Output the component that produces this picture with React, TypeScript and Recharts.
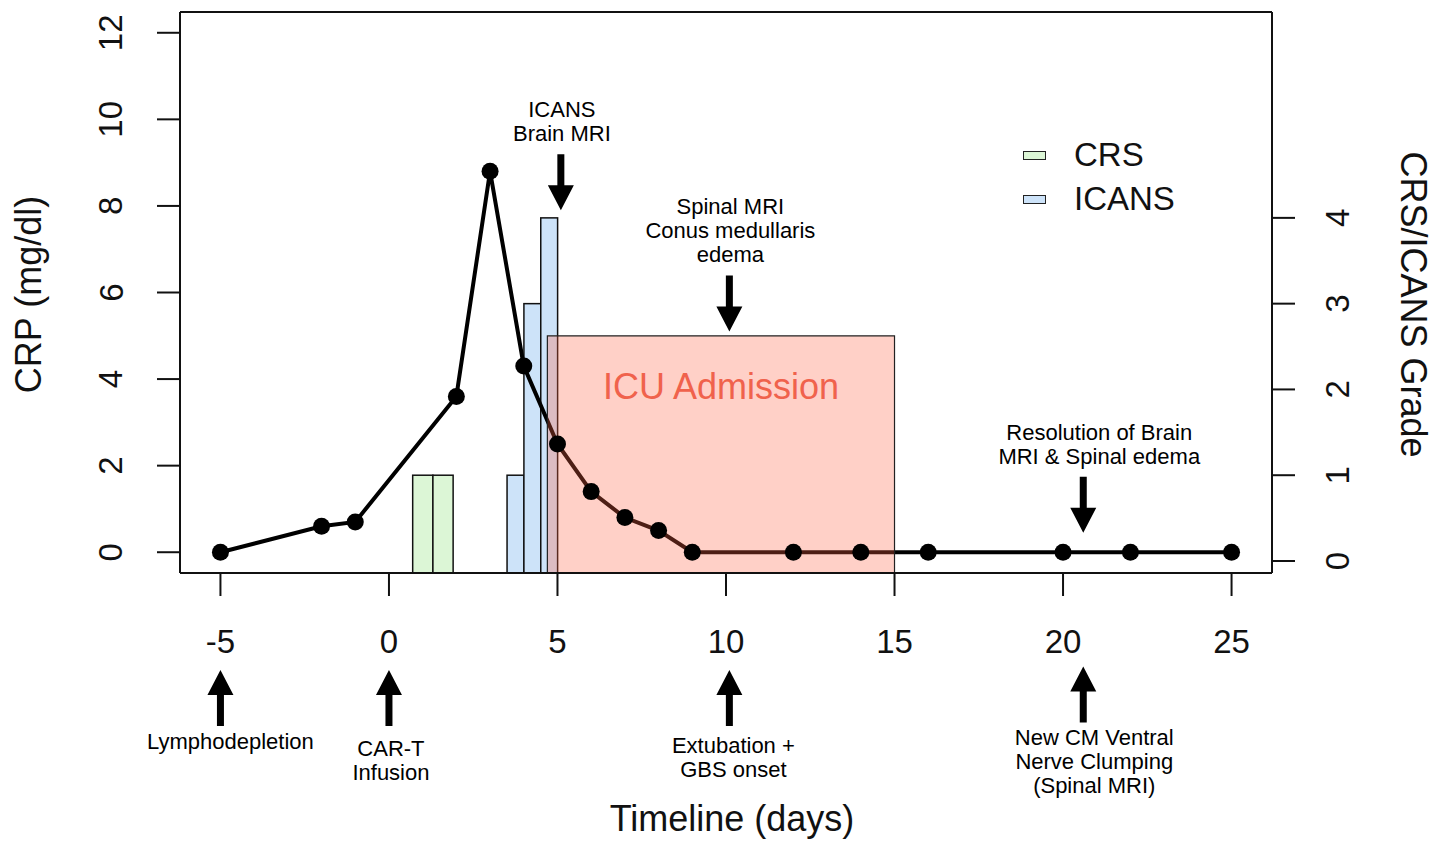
import React from "react";
import {
  Bar,
  ComposedChart,
  Legend,
  Line,
  ReferenceArea,
  ReferenceDot,
  XAxis,
  YAxis,
} from "recharts";

// CRP (mg/dl) by day relative to CAR-T infusion
const crpDays = [-5, -2, -1, 2, 3, 4, 5, 6, 7, 8, 9, 12, 14, 16, 20, 22, 25];
const crpValues = [0, 0.6, 0.7, 3.6, 8.8, 4.3, 2.5, 1.4, 0.8, 0.5, 0, 0, 0, 0, 0, 0, 0];

// toxicity grades
const crsDays = [1.0, 1.6];
const crsGrades = [1, 1];
const icansDays = [3.75, 4.25, 4.75];
const icansGrades = [1, 3, 4];

const dayTicks = [-5, 0, 5, 10, 15, 20, 25];
const crpTicks = [0, 2, 4, 6, 8, 10, 12];
const gradeTicks = [0, 1, 2, 3, 4];

const icuSpan = [4.7, 15];
const icuTop = 5;

// event markers: day, crp level of arrow tip, direction, text
const noteDays = [5.1, 10.1, 20.6, -5, 0, 10.1, 20.6];
const noteTips = [7.9, 5.1, 0.45, -2.72, -2.72, -2.72, -2.64];
const noteDirs = ["down", "down", "down", "up", "up", "up", "up"];
const noteTexts = [
  ["ICANS", "Brain MRI"],
  ["Spinal MRI", "Conus medullaris", "edema"],
  ["Resolution of Brain", "MRI & Spinal edema"],
  ["Lymphodepletion"],
  ["CAR-T", "Infusion"],
  ["Extubation +", "GBS onset"],
  ["New CM Ventral", "Nerve Clumping", "(Spinal MRI)"],
];
// small text nudges in px: [dx, gap from arrow tail]
const noteNudge = [
  [1, 21],
  [1, 21],
  [16, 20],
  [10, 16],
  [2, 23],
  [4, 20],
  [11, 15],
];

const DAY_DOMAIN: [number, number] = [-6.2, 26.2];
const CRP_DOMAIN: [number, number] = [-0.48, 12.48];
const GRADE_DOMAIN: [number, number] = [-0.14, 6.4];

const W = 1441;
const H = 852;
const LEFT_W = 180;
const RIGHT_W = 169;
const BOTTOM_H = 279;
const TOP = 12;
const pxPerDay = (W - LEFT_W - RIGHT_W) / (DAY_DOMAIN[1] - DAY_DOMAIN[0]);

const FONT = "'Liberation Sans', Arial, Helvetica, sans-serif";
const CRS_FILL = "#dcf6d6";
const ICANS_FILL = "#cde3f9";
const INK = "#111";

const rows: any[] = [
  ...crpDays.map((d, i) => ({ day: d, crp: crpValues[i] })),
  ...crsDays.map((d, i) => ({ day: d, crs: crsGrades[i] })),
  ...icansDays.map((d, i) => ({ day: d, icans: icansGrades[i] })),
].sort((a, b) => a.day - b.day);

const RotTick = ({ x, y, payload }: any) => (
  <text
    x={x}
    y={y}
    transform={`rotate(-90, ${x}, ${y})`}
    textAnchor="middle"
    dominantBaseline="central"
    fontSize={33}
    fill={INK}
    fontFamily={FONT}
  >
    {payload.value}
  </text>
);

const DayTick = ({ x, y, payload }: any) => (
  <text
    x={x}
    y={y}
    textAnchor="middle"
    dominantBaseline="central"
    fontSize={33}
    fill={INK}
    fontFamily={FONT}
  >
    {payload.value}
  </text>
);

// bars are as wide as the time they cover and stand on the plot floor (R style)
const barShape = (key: string, widthDays: number, fill: string) => (p: any) => {
  if (p.payload == null || p.payload[key] == null) return null;
  if (!isFinite(p.x) || !isFinite(p.y) || !isFinite(p.height)) return null;
  const w = widthDays * pxPerDay;
  const cx = p.x + p.width / 2;
  const top = Math.min(p.y, p.y + p.height);
  const floor = p.background ? p.background.y + p.background.height : Math.max(p.y, p.y + p.height);
  return (
    <rect
      x={cx - w / 2}
      y={top}
      width={w}
      height={floor - top}
      fill={fill}
      stroke={INK}
      strokeWidth={1.5}
    />
  );
};

const Note = ({ cx, cy, idx }: any) => {
  if (cx == null || cy == null) return null;
  const s = noteDirs[idx] === "down" ? -1 : 1;
  const tail = cy + s * 56;
  const neck = cy + s * 25;
  const pts = [
    [cx - 3.5, tail],
    [cx + 3.5, tail],
    [cx + 3.5, neck],
    [cx + 13, neck],
    [cx, cy],
    [cx - 13, neck],
    [cx - 3.5, neck],
  ]
    .map((p) => p.join(","))
    .join(" ");
  const lines = noteTexts[idx];
  const [dx, gap] = noteNudge[idx];
  return (
    <g>
      <polygon points={pts} fill="#000" />
      {lines.map((t, i) => {
        const ty =
          s < 0
            ? tail - gap - (lines.length - 1 - i) * 24
            : tail + gap + i * 24;
        return (
          <text
            key={t}
            x={cx + dx}
            y={ty}
            textAnchor="middle"
            dominantBaseline="central"
            fontSize={22}
            fill="#000"
            fontFamily={FONT}
          >
            {t}
          </text>
        );
      })}
    </g>
  );
};

const renderLegend = (props: any) => {
  const items = (props.payload || []).filter((p: any) => p.type !== "none");
  return (
    <div style={{ fontFamily: FONT }}>
      {items.map((it: any) => (
        <div
          key={it.value}
          style={{ display: "flex", alignItems: "center", height: 44 }}
        >
          <span
            style={{
              display: "inline-block",
              width: 21,
              height: 7,
              border: "1.5px solid #222",
              background: it.color,
              marginRight: 28,
            }}
          />
          <span style={{ fontSize: 33, color: INK }}>{it.value}</span>
        </div>
      ))}
    </div>
  );
};

const App = () => {
  return (
    <div style={{ position: "absolute", left: 0, top: 0, width: W, height: H, background: "#fff" }}>
      <ComposedChart
        width={W}
        height={H}
        data={rows}
        margin={{ top: TOP - 1, right: 0, bottom: 0, left: 0 }}
        style={{ fontFamily: FONT }}
      >
        <XAxis
          xAxisId="main"
          dataKey="day"
          type="number"
          domain={DAY_DOMAIN}
          allowDataOverflow
          ticks={dayTicks}
          interval={0}
          height={BOTTOM_H}
          tickSize={23}
          tickMargin={45}
          tick={<DayTick />}
          axisLine={{ stroke: INK, strokeWidth: 2 }}
          tickLine={{ stroke: INK, strokeWidth: 2 }}
          label={{
            content: (p: any) => {
              const vb = p.viewBox || { x: LEFT_W, width: W - LEFT_W - RIGHT_W, y: H - BOTTOM_H };
              return (
                <text
                  x={vb.x + vb.width / 2 + 6}
                  y={818}
                  textAnchor="middle"
                  dominantBaseline="central"
                  fontSize={36}
                  fill={INK}
                  fontFamily={FONT}
                >
                  Timeline (days)
                </text>
              );
            },
          }}
        />
        <XAxis
          xAxisId="top"
          orientation="top"
          dataKey="day"
          type="number"
          domain={DAY_DOMAIN}
          allowDataOverflow
          height={1}
          tick={false}
          tickLine={false}
          axisLine={{ stroke: INK, strokeWidth: 2 }}
        />
        <YAxis
          yAxisId="crp"
          orientation="left"
          type="number"
          domain={CRP_DOMAIN}
          allowDataOverflow
          ticks={crpTicks}
          interval={0}
          width={LEFT_W}
          tickSize={23}
          tickMargin={46}
          tick={<RotTick />}
          axisLine={{ stroke: INK, strokeWidth: 2 }}
          tickLine={{ stroke: INK, strokeWidth: 2 }}
          label={{
            content: (p: any) => {
              const vb = p.viewBox || { x: 0, y: TOP, height: H - TOP - BOTTOM_H };
              const cy = vb.y + vb.height / 2 + 2;
              return (
                <text
                  x={28}
                  y={cy}
                  transform={`rotate(-90, 28, ${cy})`}
                  textAnchor="middle"
                  dominantBaseline="central"
                  fontSize={36}
                  fill={INK}
                  fontFamily={FONT}
                >
                  CRP (mg/dl)
                </text>
              );
            },
          }}
        />
        <YAxis
          yAxisId="grade"
          orientation="right"
          type="number"
          domain={GRADE_DOMAIN}
          allowDataOverflow
          ticks={gradeTicks}
          interval={0}
          width={RIGHT_W}
          tickSize={23}
          tickMargin={43}
          tick={<RotTick />}
          axisLine={{ stroke: INK, strokeWidth: 2 }}
          tickLine={{ stroke: INK, strokeWidth: 2 }}
          label={{
            content: (p: any) => {
              const vb = p.viewBox || { y: TOP, height: H - TOP - BOTTOM_H };
              const cy = vb.y + vb.height / 2 + 12;
              return (
                <text
                  x={1413}
                  y={cy}
                  transform={`rotate(90, 1413, ${cy})`}
                  textAnchor="middle"
                  dominantBaseline="central"
                  fontSize={36}
                  fill={INK}
                  fontFamily={FONT}
                >
                  CRS/ICANS Grade
                </text>
              );
            },
          }}
        />

        <Bar
          xAxisId="main"
          yAxisId="grade"
          name="CRS"
          dataKey="crs"
          stackId="tox"
          fill={CRS_FILL}
          stroke={INK}
          shape={barShape("crs", 0.6, CRS_FILL)}
          isAnimationActive={false}
        />
        <Bar
          xAxisId="main"
          yAxisId="grade"
          name="ICANS"
          dataKey="icans"
          stackId="tox"
          fill={ICANS_FILL}
          stroke={INK}
          shape={barShape("icans", 0.5, ICANS_FILL)}
          isAnimationActive={false}
        />
        <Line
          xAxisId="main"
          yAxisId="crp"
          dataKey="crp"
          name="CRP"
          type="linear"
          stroke="#000"
          strokeWidth={4}
          connectNulls
          dot={{ r: 8.5, fill: "#000", stroke: "none" }}
          activeDot={false}
          legendType="none"
          isAnimationActive={false}
        />
        <ReferenceArea
          xAxisId="main"
          yAxisId="crp"
          x1={icuSpan[0]}
          x2={icuSpan[1]}
          y1={CRP_DOMAIN[0]}
          y2={icuTop}
          fill="tomato"
          fillOpacity={0.3}
          stroke="#222"
          strokeWidth={1.2}
          zIndex={450}
          label={{
            value: "ICU Admission",
            position: "insideTop",
            offset: 38,
            fill: "#f0624c",
            fontSize: 36,
            fontFamily: FONT,
          }}
        />
        {noteDays.map((d, i) => (
          <ReferenceDot
            key={i}
            xAxisId="main"
            yAxisId="crp"
            x={d}
            y={noteTips[i]}
            ifOverflow="visible"
            zIndex={2000}
            shape={(p: any) => <Note cx={p.cx} cy={p.cy} idx={i} />}
          />
        ))}
        <Legend
          layout="vertical"
          align="center"
          verticalAlign="middle"
          content={renderLegend}
          wrapperStyle={{ position: "absolute", left: 1023, top: 133, width: "auto", right: "auto", bottom: "auto" }}
        />
      </ComposedChart>
    </div>
  );
};

export default App;
